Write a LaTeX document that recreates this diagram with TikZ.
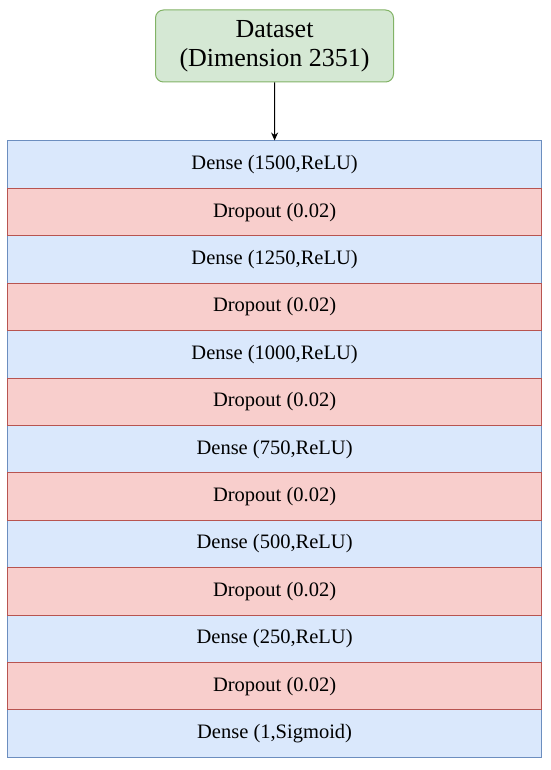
\documentclass[tikz,border=0pt]{standalone}
\usepackage{fontspec}
\setmainfont{Liberation Serif}
\usetikzlibrary{arrows.meta}
\definecolor{bfill}{HTML}{DAE8FC}
\definecolor{bdraw}{HTML}{6C8EBF}
\definecolor{rfill}{HTML}{F8CECC}
\definecolor{rdraw}{HTML}{B85450}
\definecolor{gfill}{HTML}{D5E8D4}
\definecolor{gdraw}{HTML}{82B366}
\begin{document}
\begin{tikzpicture}[x=1pt,y=-1pt,
  layer/.style={minimum width=534pt,minimum height=47.4pt,inner sep=0pt,line width=1pt,font=\fontsize{20.5}{24}\selectfont},
  dense/.style={layer,fill=bfill,draw=bdraw},
  drop/.style={layer,fill=rfill,draw=rdraw},
  data/.style={rounded corners=8pt,fill=gfill,draw=gdraw,line width=1pt,minimum width=238pt,minimum height=72pt,align=center,inner sep=0pt,font=\fontsize{26}{29}\selectfont}]
\useasboundingbox (0,0) rectangle (550,770);
\node[data] (ds) at (274.5,46) {Dataset\\(Dimension 2351)};
\def\h{47.4}
\node[dense] (l1) at (274.6,{141+0.5*\h}) {Dense (1500,ReLU)};
\node[dense] (l3) at (274.6,{141+2.5*\h}) {Dense (1250,ReLU)};
\node[dense] (l5) at (274.6,{141+4.5*\h}) {Dense (1000,ReLU)};
\node[dense] (l7) at (274.6,{141+6.5*\h}) {Dense (750,ReLU)};
\node[dense] (l9) at (274.6,{141+8.5*\h}) {Dense (500,ReLU)};
\node[dense] (l11) at (274.6,{141+10.5*\h}) {Dense (250,ReLU)};
\node[dense] (l13) at (274.6,{141+12.5*\h}) {Dense (1,Sigmoid)};
\node[drop] (l2) at (274.6,{141+1.5*\h}) {Dropout (0.02)};
\node[drop] (l4) at (274.6,{141+3.5*\h}) {Dropout (0.02)};
\node[drop] (l6) at (274.6,{141+5.5*\h}) {Dropout (0.02)};
\node[drop] (l8) at (274.6,{141+7.5*\h}) {Dropout (0.02)};
\node[drop] (l10) at (274.6,{141+9.5*\h}) {Dropout (0.02)};
\node[drop] (l12) at (274.6,{141+11.5*\h}) {Dropout (0.02)};
\draw[line width=1pt,-{Stealth[length=8pt,width=7pt]}] (ds.south) -- (l1.north);
\end{tikzpicture}
\end{document}
